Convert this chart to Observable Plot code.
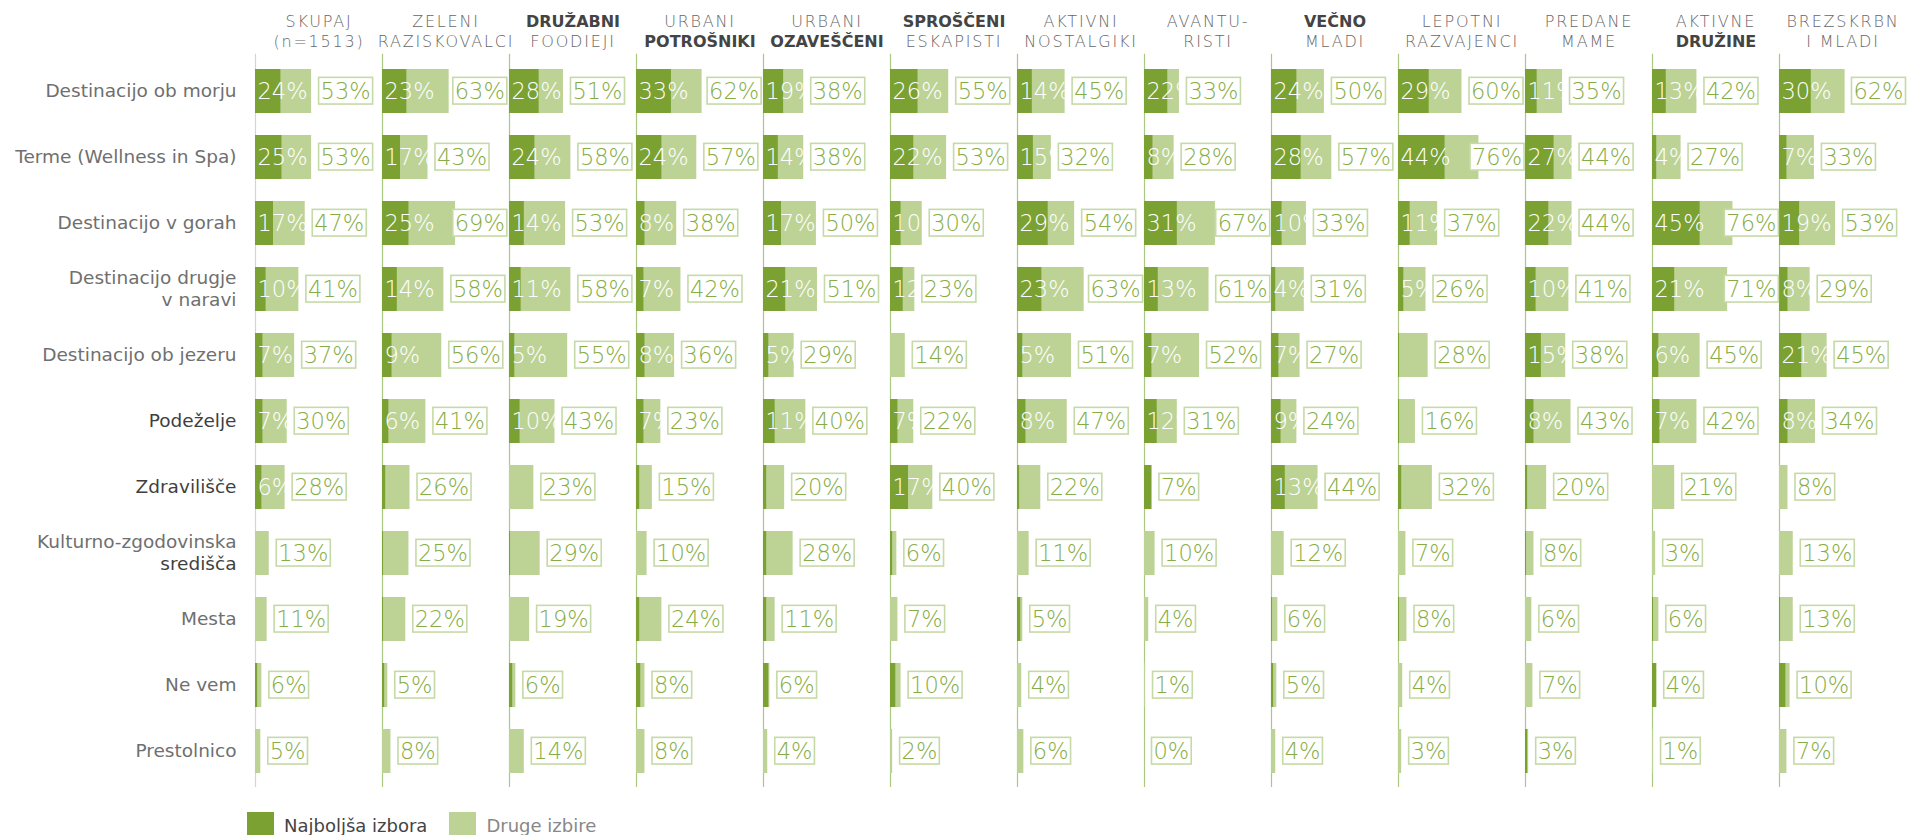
<!DOCTYPE html>
<html><head><meta charset="utf-8">
<script src="https://cdn.jsdelivr.net/npm/d3@7"></script>
<script src="https://cdn.jsdelivr.net/npm/@observablehq/plot@0.6"></script>
<style>
body{margin:0;background:#fff;}
#chart svg{display:block;}
#legend{display:flex;align-items:center;padding-left:247px;margin-top:12px;font-family:"DejaVu Sans",sans-serif;font-size:18px;}
#legend .sw{width:27px;height:27px;display:inline-block;margin-right:10px;}
#legend .it{display:flex;align-items:center;margin-right:22px;}
</style></head><body>
<div id="chart"></div>
<div id="legend">
  <span class="it"><span class="sw" style="background:#7aa132"></span><span style="color:#444">Najboljša izbora</span></span>
  <span class="it"><span class="sw" style="background:#bdd396"></span><span style="color:#888">Druge izbire</span></span>
</div>
<script>
// Segment header lines
const segLine1 = ["SKUPAJ","ZELENI","DRUŽABNI","URBANI","URBANI","SPROŠČENI","AKTIVNI","AVANTU-","VEČNO","LEPOTNI","PREDANE","AKTIVNE","BREZSKRBN"];
const segLine2 = ["(n=1513)","RAZISKOVALCI","FOODIEJI","POTROŠNIKI","OZAVEŠČENI","ESKAPISTI","NOSTALGIKI","RISTI","MLADI","RAZVAJENCI","MAME","DRUŽINE","I MLADI"];
const segBold1 = [false,false,true,false,false,true,false,false,true,false,false,false,false];
const segBold2 = [false,false,false,true,true,false,false,false,false,false,false,true,false];

// Row labels
const rowLine1 = ["Destinacijo ob morju","Terme (Wellness in Spa)","Destinacijo v gorah","Destinacijo drugje","Destinacijo ob jezeru","Podeželje","Zdravilišče","Kulturno-zgodovinska","Mesta","Ne vem","Prestolnico"];
const rowLine2 = [null,null,null,"v naravi",null,null,null,"središča",null,null,null];
const rowStrong1 = [false,false,false,false,false,true,true,false,false,false,false];
const rowStrong2 = [false,false,false,false,false,false,false,true,false,false,false];

// Najboljša izbora (best choice), % per row, per segment
const best = [
  [24,23,28,33,19,26,14,22,24,29,11,13,30],
  [25,17,24,24,14,22,15,8,28,44,27,4,7],
  [17,25,14,8,17,10,29,31,10,11,22,45,19],
  [10,14,11,7,21,12,23,13,4,5,10,21,8],
  [7,9,5,8,5,0,5,7,7,1,15,6,21],
  [7,6,10,7,11,7,8,12,9,1,8,7,8],
  [6,3,0,3,3,17,2,7,13,3,2,0,0],
  [0,1,1,0,3,2,0,0,0,0,1,0,0],
  [0,1,0,3,3,0,3,0,1,1,0,1,1],
  [2,2,3,4,5,5,0,0,2,0,0,4,6],
  [0,0,0,0,0,0,0,0,0,0,2,0,0]
];
// Skupaj (any choice incl. Druge izbire), %
const total = [
  [53,63,51,62,38,55,45,33,50,60,35,42,62],
  [53,43,58,57,38,53,32,28,57,76,44,27,33],
  [47,69,53,38,50,30,54,67,33,37,44,76,53],
  [41,58,58,42,51,23,63,61,31,26,41,71,29],
  [37,56,55,36,29,14,51,52,27,28,38,45,45],
  [30,41,43,23,40,22,47,31,24,16,43,42,34],
  [28,26,23,15,20,40,22,7,44,32,20,21,8],
  [13,25,29,10,28,6,11,10,12,7,8,3,13],
  [11,22,19,24,11,7,5,4,6,8,6,6,13],
  [6,5,6,8,6,10,4,1,5,4,7,4,10],
  [5,8,14,8,4,2,6,0,4,3,3,1,7]
];

const segKeys = segLine1.map((s, i) => s + " " + segLine2[i]);
const rowKeys = rowLine1.map((s, i) => rowLine2[i] ? s + " " + rowLine2[i] : s);
const segIdx = segKeys.map((_, i) => i);
const rowIdx = rowKeys.map((_, i) => i);

const cells = [];
rowKeys.forEach((r, i) => segKeys.forEach((s, j) => {
  cells.push({row: r, seg: s, best: best[i][j], total: total[i][j]});
}));

const DARK = "#7aa132", LIGHT = "#bdd396", LABEL = "#86ad45";
const PCTFONT = "'DejaVu Sans', sans-serif";
const PCTSIZE = 22.5, PCTWEIGHT = 200;
const LBLFONT = "'DejaVu Sans', sans-serif";
const first = segKeys[0];
const W = 1907, ML = 254, MR = 0;

function rowText(textFn, dy, fill) {
  return Plot.text(rowIdx, {
    fx: () => first, y: i => rowKeys[i], x: () => 0, dx: -19, dy,
    text: textFn, textAnchor: "end", fill, fontSize: 18.5, fontFamily: LBLFONT
  });
}

const chart = Plot.plot({
  width: W,
  height: 800,
  marginLeft: ML,
  marginRight: MR,
  marginTop: 53.67,
  marginBottom: 13,
  fx: {domain: segKeys, padding: 0, axis: null},
  x: {domain: [0, 120], axis: null},
  y: {domain: rowKeys, paddingInner: 0.34, paddingOuter: 0.17, axis: null},
  marks: [
    Plot.ruleX(segIdx, {fx: i => segKeys[i], x: () => 0, stroke: i => i === 0 ? "#d4d4d4" : "#abc882", strokeWidth: 1.2}),
    Plot.barX(cells, {fx: "seg", y: "row", x1: () => 0, x2: "total", fill: LIGHT}),
    Plot.barX(cells, {fx: "seg", y: "row", x1: () => 0, x2: "best", fill: DARK}),
    Plot.text(cells.filter(d => d.best >= 4 && d.total >= 20), {
      fx: "seg", y: "row", x: () => 0, dx: 2, text: d => d.best + "%",
      textAnchor: "start", fill: "white", fontSize: PCTSIZE, fontWeight: PCTWEIGHT, fontFamily: PCTFONT
    }),
    Plot.text(cells, {
      fx: "seg", y: "row", x: "total", dx: 9, text: d => d.total + "%",
      textAnchor: "start", fill: LABEL, fontSize: PCTSIZE, fontWeight: PCTWEIGHT, fontFamily: PCTFONT,
      className: "totlab"
    }),
    // row labels
    rowText(i => (!rowLine2[i] && !rowStrong1[i]) ? rowLine1[i] : null, 0, "#6f6f6f"),
    rowText(i => (!rowLine2[i] && rowStrong1[i]) ? rowLine1[i] : null, 0, "#3f3f3f"),
    rowText(i => rowLine2[i] ? rowLine1[i] : null, -11, "#6f6f6f"),
    rowText(i => rowLine2[i] && !rowStrong2[i] ? rowLine2[i] : null, 11, "#6f6f6f"),
    rowText(i => rowLine2[i] && rowStrong2[i] ? rowLine2[i] : null, 11, "#3f3f3f"),
    // headers
    Plot.text(segIdx, {
      fx: i => segKeys[i], frameAnchor: "top", dy: -38.5,
      text: i => segBold1[i] ? null : segLine1[i],
      fill: "#666", fontSize: 16, fontWeight: 300, fontFamily: LBLFONT, className: "hdr"
    }),
    Plot.text(segIdx, {
      fx: i => segKeys[i], frameAnchor: "top", dy: -38.5,
      text: i => segBold1[i] ? segLine1[i] : null,
      fill: "#444", fontSize: 16, fontWeight: "bold", fontFamily: LBLFONT
    }),
    Plot.text(segIdx, {
      fx: i => segKeys[i], frameAnchor: "top", dy: -19,
      text: i => segBold2[i] ? null : segLine2[i],
      fill: "#666", fontSize: 16, fontWeight: 300, fontFamily: LBLFONT, className: "hdr"
    }),
    Plot.text(segIdx, {
      fx: i => segKeys[i], frameAnchor: "top", dy: -19,
      text: i => segBold2[i] ? segLine2[i] : null,
      fill: "#444", fontSize: 16, fontWeight: "bold", fontFamily: LBLFONT
    })
  ]
});

document.getElementById("chart").append(chart);

// light header letter spacing
chart.querySelectorAll("g.hdr text").forEach(t => t.setAttribute("letter-spacing", "1.8"));

// white boxes with light green outline behind total labels,
// kept inside their own segment column
const BOXH = 26.7;
const step = (W - ML - MR) / segKeys.length;
const svgLeft = chart.getBoundingClientRect().left;
chart.querySelectorAll("g.totlab text").forEach(t => {
  const gb = t.getBoundingClientRect();
  const left = gb.left - svgLeft;
  const col = Math.max(0, Math.floor((left - ML - 5) / step));
  const colEnd = ML + (col + 1) * step - 1.5;
  const right = gb.right - svgLeft + 2;
  const tr0 = t.getAttribute("transform") || "";
  const tr = right > colEnd ? `translate(${-(right - colEnd)},0) ${tr0}` : tr0;
  if (tr) t.setAttribute("transform", tr);
  const b = t.getBBox();
  const r = document.createElementNS("http://www.w3.org/2000/svg", "rect");
  r.setAttribute("x", b.x - 2);
  r.setAttribute("y", b.y + (b.height - BOXH) / 2);
  r.setAttribute("width", b.width + 4);
  r.setAttribute("height", BOXH);
  r.setAttribute("fill", "white");
  r.setAttribute("stroke", "#c5daa6");
  r.setAttribute("stroke-width", 1.6);
  if (tr) r.setAttribute("transform", tr);
  t.parentNode.insertBefore(r, t);
});
</script>
</body></html>
